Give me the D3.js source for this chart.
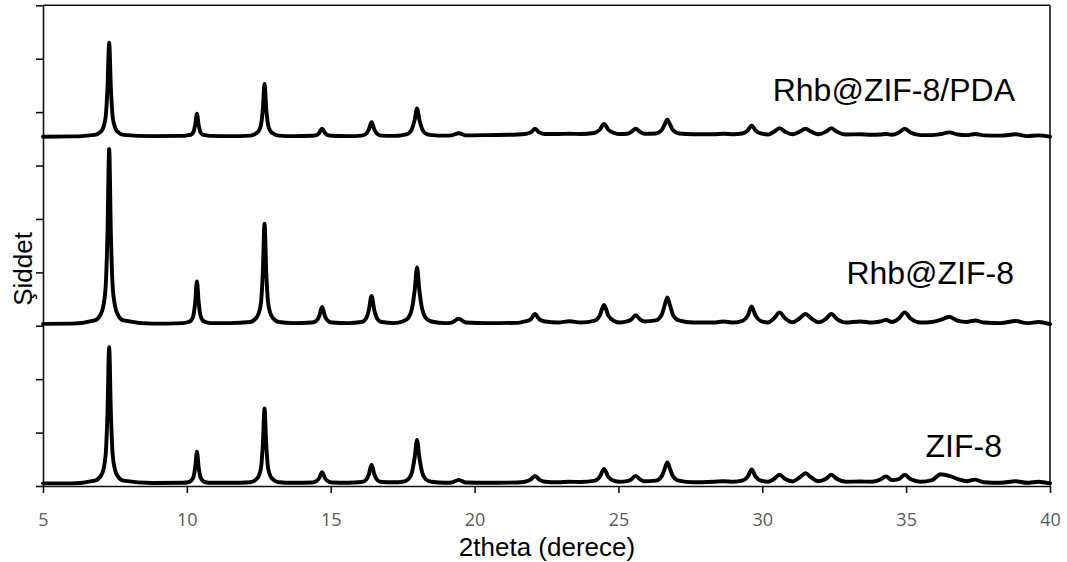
<!DOCTYPE html>
<html>
<head>
<meta charset="utf-8">
<script src="https://cdn.jsdelivr.net/npm/d3@7"></script>
<style>
  html, body { margin: 0; padding: 0; background: #fff; }
  svg { display: block; }
</style>
</head>
<body>
<svg id="chart" width="1067" height="562"></svg>
<script>
// 2θ grid (degrees) shared by the three diffraction patterns
const twoTheta = [
  5.0, 6.0, 6.8, 7.0, 7.1, 7.18, 7.24, 7.3, 7.36, 7.42, 7.5, 7.6, 7.8, 8.8,
  9.85, 10.05, 10.15, 10.23, 10.29, 10.35, 10.41, 10.47, 10.55, 10.65, 10.85, 11.5,
  12.2, 12.4, 12.5, 12.58, 12.64, 12.7, 12.76, 12.82, 12.9, 13.0, 13.2, 13.7,
  14.35, 14.5, 14.6, 14.7, 14.8, 14.9, 15.05, 15.6,
  16.07, 16.22, 16.32, 16.42, 16.52, 16.62, 16.77, 17.2,
  17.5, 17.7, 17.82, 17.92, 18.0, 18.08, 18.18, 18.3, 18.5, 19.0,
  19.2, 19.45, 19.7, 20.5, 21.5, 21.75, 21.95, 22.1, 22.25, 22.45, 22.9, 23.3, 23.7,
  24.15, 24.35, 24.5, 24.65, 24.85, 25.05, 25.3, 25.45, 25.6, 25.75, 25.9,
  26.3, 26.5, 26.6, 26.7, 26.8, 26.9, 27.1, 27.6, 28.3, 28.65, 29.0,
  29.3, 29.5, 29.63, 29.76, 29.95, 30.2, 30.4, 30.6, 30.8, 31.05, 31.3, 31.5, 31.7, 31.95, 32.2, 32.4, 32.6, 32.9,
  33.4, 33.8, 34.1, 34.3, 34.5, 34.75, 34.95, 35.15, 35.5, 35.9, 36.2, 36.5, 36.8, 37.1, 37.4, 37.7, 38.3, 38.8, 39.2, 39.6, 40.0
];

// Intensities (a.u.), relative to each pattern's own baseline
const zif8 = [
  0, 0, .05, .13, .26, .55, 1.30, 2.55, 1.30, .55, .26, .13, .05, .005,
  .01, .02, .05, .12, .30, .59, .30, .12, .05, .02, .01, .01,
  .02, .07, .14, .30, .72, 1.40, .72, .30, .14, .07, .02, .01,
  .015, .04, .10, .21, .10, .04, .015, .01,
  .025, .06, .16, .35, .16, .06, .025, .02,
  .03, .08, .20, .49, .81, .49, .20, .08, .03, .01,
  .015, .065, .015, .01, .015, .03, .07, .14, .07, .03, .02, .03, .025,
  .045, .12, .27, .12, .045, .03, .04, .075, .14, .075, .04,
  .05, .13, .26, .39, .26, .13, .05, .02, .03, .04, .03,
  .05, .13, .26, .13, .05, .03, .08, .16, .08, .035, .11, .19, .11, .04, .08, .16, .08, .03,
  .035, .03, .07, .13, .06, .08, .16, .08, .03, .06, .17, .14, .08, .04, .07, .02, .01, .04, .01, .03, 0
];

const rhbZif8 = [
  -.015, -.01, .05, .16, .33, .70, 1.65, 3.26, 1.65, .70, .33, .16, .05, -.01,
  0, .02, .05, .15, .39, .78, .39, .15, .05, .02, 0, 0,
  .02, .09, .19, .40, .95, 1.86, .95, .40, .19, .09, .02, 0,
  .01, .045, .13, .30, .13, .045, .01, 0,
  .02, .08, .23, .51, .23, .08, .02, 0,
  .03, .10, .26, .62, 1.04, .62, .26, .10, .03, 0,
  .01, .08, .01, 0, .005, .03, .07, .17, .07, .03, .01, .035, .01,
  .04, .14, .34, .14, .04, .01, .03, .07, .15, .07, .03,
  .05, .15, .32, .48, .32, .15, .05, .01, .01, .03, .01,
  .04, .145, .31, .145, .04, .01, .085, .20, .085, .015, .09, .17, .09, .015, .075, .17, .075, .01,
  .03, .01, .03, .06, .02, .085, .20, .085, .01, .02, .06, .12, .04, .02, .05, .01, 0, .04, 0, .02, -.02
];

const rhbZif8Pda = [
  -.01, -.005, .025, .08, .17, .37, .89, 1.75, .89, .37, .17, .08, .025, 0,
  .005, .02, .03, .08, .21, .42, .21, .08, .03, .02, .005, 0,
  .01, .05, .10, .22, .50, .98, .50, .22, .10, .05, .01, 0,
  .007, .02, .06, .14, .06, .02, .007, 0,
  .01, .04, .12, .26, .12, .04, .01, .005,
  .02, .05, .13, .31, .52, .31, .13, .05, .02, .01,
  .015, .055, .015, .02, .03, .04, .07, .14, .07, .04, .04, .045, .04,
  .06, .12, .23, .12, .06, .04, .045, .08, .14, .08, .045,
  .05, .11, .21, .31, .21, .11, .05, .035, .035, .045, .035,
  .05, .11, .20, .11, .05, .03, .08, .15, .08, .035, .085, .14, .085, .035, .08, .15, .08, .03,
  .035, .025, .03, .04, .025, .07, .14, .07, .02, .02, .04, .07, .03, .02, .04, .015, .01, .035, 0, .015, -.01
];

// Vertical stacking offsets of the patterns
const seriesNames = ["ZIF-8", "Rhb@ZIF-8", "Rhb@ZIF-8/PDA"];
const seriesValues = [zif8, rhbZif8, rhbZif8Pda];
const seriesOffsets = [0.05, 3.05, 6.55];

const xTicks = [5, 10, 15, 20, 25, 30, 35, 40];
const yTicks = [0, 1, 2, 3, 4, 5, 6, 7, 8, 9];

const xTitle = "2theta (derece)";
const yTitle = "Şiddet";

// ---- layout ----
const svg = d3.select("#chart");
const x = d3.scaleLinear().domain([5, 40]).range([43, 1050]);
const y = d3.scaleLinear().domain([0, 9]).range([486, 5.3]);

// frame: top and right edges
svg.append("line")
  .attr("x1", x(5)).attr("x2", x(40)).attr("y1", y(9)).attr("y2", y(9))
  .attr("stroke", "#111").attr("stroke-width", 1.6);
svg.append("line")
  .attr("x1", x(40)).attr("x2", x(40)).attr("y1", y(9)).attr("y2", y(0))
  .attr("stroke", "#111").attr("stroke-width", 1.6);

// x axis
const gx = svg.append("g")
  .attr("transform", `translate(0,${y(0)})`)
  .call(d3.axisBottom(x).tickValues(xTicks).tickSize(7).tickSizeOuter(0).tickPadding(20));
gx.selectAll("text")
  .attr("fill", "#595959")
  .style("font-family", "'Open Sans', 'Liberation Sans', sans-serif")
  .style("font-size", "18px");

// y axis (ticks only)
const gy = svg.append("g")
  .attr("transform", `translate(${x(5)},0)`)
  .call(d3.axisLeft(y).tickValues(yTicks).tickSize(7).tickSizeOuter(0).tickFormat(""));

svg.selectAll(".domain, .tick line")
  .attr("stroke", "#111").attr("stroke-width", 1.6);

// patterns
const line = d3.line()
  .x(d => x(d[0]))
  .y(d => y(d[1]))
  .curve(d3.curveMonotoneX);

seriesValues.forEach((vals, i) => {
  const pts = twoTheta.map((t, k) => [t, vals[k] + seriesOffsets[i]]);
  svg.append("path")
    .datum(pts)
    .attr("d", line)
    .attr("fill", "none")
    .attr("stroke", "#000")
    .attr("stroke-width", 3.9)
    .attr("stroke-linejoin", "round")
    .attr("stroke-linecap", "round");
});

// pattern labels
const labelPos = [
  { name: seriesNames[0], x: 1002, y: 457 },
  { name: seriesNames[1], x: 1014, y: 284 },
  { name: seriesNames[2], x: 1015, y: 101 }
];
svg.selectAll("text.series")
  .data(labelPos)
  .join("text")
  .attr("class", "series")
  .attr("x", d => d.x)
  .attr("y", d => d.y)
  .attr("text-anchor", "end")
  .style("font-family", "'Liberation Sans', Arial, sans-serif")
  .style("font-size", "32px")
  .attr("fill", "#000")
  .text(d => d.name);

// axis titles
svg.append("text")
  .attr("x", 547).attr("y", 556)
  .attr("text-anchor", "middle")
  .style("font-family", "'Liberation Sans', Arial, sans-serif")
  .style("font-size", "26px")
  .attr("fill", "#000")
  .text(xTitle);

svg.append("text")
  .attr("transform", "translate(32,269) rotate(-90)")
  .attr("text-anchor", "middle")
  .style("font-family", "'Liberation Sans', Arial, sans-serif")
  .style("font-size", "26px")
  .attr("fill", "#000")
  .text(yTitle);
</script>
</body>
</html>
